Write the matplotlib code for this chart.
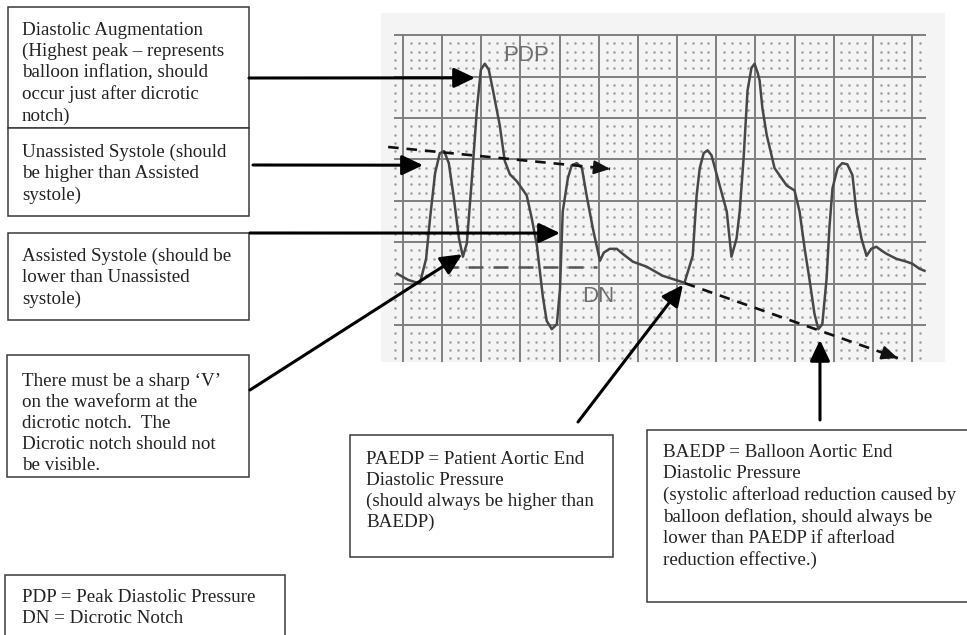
import matplotlib.pyplot as plt
from matplotlib.patches import Rectangle

# Waveform, in major grid divisions
# (x = time divisions from the first heavy line, y = divisions above the 2nd lowest line).
WAVE_X = [-0.15, 0.13, 0.43, 0.59, 0.69, 0.82, 0.94, 1.05, 1.17, 1.30, 1.43, 1.53,
          1.63, 1.76, 1.89, 1.99, 2.09, 2.19, 2.30, 2.47, 2.60, 2.73, 2.91, 3.16,
          3.29, 3.42, 3.57, 3.67, 3.80, 3.93, 4.01, 4.08, 4.21, 4.31, 4.44, 4.57,
          4.69, 4.85, 5.03, 5.13, 5.28, 5.46, 5.61, 5.87, 6.22, 6.63, 7.19, 7.40,
          7.50, 7.58, 7.68, 7.78, 7.88, 8.04, 8.27, 8.39, 8.52, 8.60, 8.70, 8.80,
          8.90, 8.98, 9.06, 9.11, 9.18, 9.29, 9.49, 9.80, 10.00, 10.13, 10.26, 10.38,
          10.51, 10.61, 10.71, 10.82, 10.89, 10.97, 11.10, 11.22, 11.35, 11.48, 11.58,
          11.71, 11.84, 11.96, 12.09, 12.22, 12.35, 12.60, 12.86, 13.01, 13.19, 13.32]
WAVE_Y = [1.24, 1.09, 1.00, 1.60, 2.57, 3.67, 4.15, 4.20, 3.91, 3.06, 2.09, 1.65,
          1.97, 3.54, 5.24, 6.17, 6.31, 6.17, 5.66, 4.83, 3.96, 3.64, 3.47, 3.13,
          2.57, 1.92, 0.70, 0.10, -0.10, 0.02, 0.87, 2.74, 3.54, 3.86, 3.91, 3.79,
          3.13, 2.33, 1.55, 1.75, 1.84, 1.84, 1.72, 1.53, 1.41, 1.19, 1.02, 1.67,
          3.13, 3.79, 4.15, 4.22, 4.10, 3.54, 2.74, 1.65, 2.09, 2.74, 4.03, 5.66,
          6.21, 6.31, 6.09, 5.90, 5.24, 4.59, 3.79, 3.37, 3.25, 2.74, 1.84, 1.12,
          0.27, -0.10, 0.02, 1.12, 2.33, 3.30, 3.79, 3.91, 3.88, 3.62, 2.74,
          2.09, 1.67, 1.84, 1.89, 1.80, 1.72, 1.60, 1.53, 1.48, 1.36, 1.31]

# hand-drawn reference lines on the strip
SYSTOLE_TREND_X = [-0.38, 5.29]
SYSTOLE_TREND_Y = [4.30, 3.77]
NOTCH_LEVEL_X = [1.02, 4.96]
NOTCH_LEVEL_Y = [1.40, 1.40]
AEDP_TREND_X = [7.20, 12.64]
AEDP_TREND_Y = [1.01, -0.80]

STRIP_LABELS = [("PDP", 3.14, 6.50), ("DN", 5.00, 0.68)]

# callout boxes: (left, top, right, bottom) in page pixels, text
BOXES = [
    ((8, 7, 249, 128), "Diastolic Augmentation\n(Highest peak \u2013 represents\n"
                       "balloon inflation, should\noccur just after dicrotic\nnotch)"),
    ((8, 128, 249, 216), "Unassisted Systole (should\nbe higher than Assisted\nsystole)"),
    ((8, 233, 249, 320), "Assisted Systole (should be\nlower than Unassisted\nsystole)"),
    ((7, 355, 249, 477), "There must be a sharp \u2018V\u2019\non the waveform at the\n"
                         "dicrotic notch.  The\nDicrotic notch should not\nbe visible."),
    ((5, 575, 285, 645), "PDP = Peak Diastolic Pressure\nDN = Dicrotic Notch"),
    ((350, 435, 613, 557), "PAEDP = Patient Aortic End\nDiastolic Pressure\n"
                           "(should always be higher than\nBAEDP)"),
    ((647, 430, 980, 602), "BAEDP = Balloon Aortic End\nDiastolic Pressure\n"
                           "(systolic afterload reduction caused by\nballoon deflation, should always be\n"
                           "lower than PAEDP if afterload\nreduction effective.)"),
]
TEXT_OFFSET = [(14, 15), (14, 16), (14, 15), (15, 18), (17, 14), (16, 16), (16, 14)]

# callout arrows: start (page pixels) -> target (strip divisions)
ARROW_START = [(249, 78), (253, 165), (250, 233), (250, 390), (578, 422), (820, 420)]
ARROW_END = [(1.84, 5.97), (0.51, 3.86), (4.01, 2.22), (1.51, 1.71), (7.15, 0.97), (10.65, -0.36)]

W, H = 967, 635
fig = plt.figure(figsize=(W / 100, H / 100), dpi=100)
fig.patch.set_facecolor("white")

# strip chart paper, placed in page pixels
px0, px1, py0, py1 = 381, 945, 13, 362
ax = fig.add_axes([px0 / W, 1 - py1 / H, (px1 - px0) / W, (py1 - py0) / H])
ax.set_xlim((px0 - 403) / 39.15, (px1 - 403) / 39.15)
ax.set_ylim((325 - py1) / 41.4, (325 - py0) / 41.4)
ax.set_facecolor("#f4f4f4")
for s in ax.spines.values():
    s.set_visible(False)
ax.set_xticks([])
ax.set_yticks([])

y_low = ax.get_ylim()[0]
for k in range(14):
    ax.plot([k, k], [y_low, 7.0], color="#7e7e7e", lw=1.4, zorder=1)
for j in range(8):
    ax.plot([-0.2, 13.33], [j, j], color="#7e7e7e", lw=1.4, zorder=1)
dx, dy = [], []
for k in range(-1, 14):
    for fx in (0.2, 0.4, 0.6, 0.8):
        x = k + fx
        if x < -0.25 or x > 13.25:
            continue
        for j in range(-1, 7):
            for fy in (0.2, 0.4, 0.6, 0.8):
                y = j + fy
                if y < -0.85:
                    continue
                dx.append(x)
                dy.append(y)
ax.scatter(dx, dy, s=3.2, color="#9a9a9a", linewidths=0, zorder=1)

ax.plot(WAVE_X, WAVE_Y, color="#474747", lw=1.8, solid_joinstyle="round", zorder=3)

ax.plot(SYSTOLE_TREND_X, SYSTOLE_TREND_Y, color="#111111", lw=1.9, dashes=(4, 3), zorder=4)
ax.annotate("", xy=(SYSTOLE_TREND_X[1], SYSTOLE_TREND_Y[1]),
            xytext=(SYSTOLE_TREND_X[1] - 0.3, SYSTOLE_TREND_Y[1] + 0.028),
            arrowprops=dict(arrowstyle="-|>,head_length=0.7,head_width=0.3",
                            color="#111111", lw=1.5, mutation_scale=14, shrinkA=0, shrinkB=0))
ax.plot(NOTCH_LEVEL_X, NOTCH_LEVEL_Y, color="#555555", lw=1.8, dashes=(6, 4), zorder=4)
ax.plot(AEDP_TREND_X, AEDP_TREND_Y, color="#111111", lw=1.9, dashes=(4, 3), zorder=4)
slope = (AEDP_TREND_Y[1] - AEDP_TREND_Y[0]) / (AEDP_TREND_X[1] - AEDP_TREND_X[0])
ax.annotate("", xy=(AEDP_TREND_X[1], AEDP_TREND_Y[1]),
            xytext=(AEDP_TREND_X[1] - 0.3, AEDP_TREND_Y[1] - 0.3 * slope),
            arrowprops=dict(arrowstyle="-|>,head_length=0.7,head_width=0.3",
                            color="#111111", lw=1.5, mutation_scale=14, shrinkA=0, shrinkB=0))

for label, x, y in STRIP_LABELS:
    ax.text(x, y, label, color="#6e6e6e", fontsize=16, family="Liberation Sans",
            ha="center", va="center", zorder=2)

# overlay in page pixels for boxes and callouts
ov = fig.add_axes([0, 0, 1, 1])
ov.set_xlim(0, W)
ov.set_ylim(H, 0)
ov.axis("off")
ov.patch.set_alpha(0)

for i, ((l, t, r, b), txt) in enumerate(BOXES):
    z = 2 + 2 * i
    ov.add_patch(Rectangle((l, t), r - l, b - t, facecolor="white", edgecolor="#3a3a3a",
                           lw=1.1, zorder=z, clip_on=False))
    ox, oy = TEXT_OFFSET[i]
    t_art = ov.text(l + ox, t + oy, txt, family="Liberation Serif", fontsize=13.7,
                    color="#222222", ha="left", va="top", linespacing=1.30, zorder=z + 1)
    # the first box's text frame cuts off the bottom of its last line
    clip = Rectangle((l, t), r - l, b - t - (6 if i == 0 else 0), transform=ov.transData)
    t_art.set_clip_path(clip)

for (sx, sy), (ex, ey) in zip(ARROW_START, ARROW_END):
    ov.annotate("", xy=(ex, ey), xycoords=ax.transData, xytext=(sx, sy), textcoords=ov.transData,
                arrowprops=dict(arrowstyle="-|>,head_length=0.8,head_width=0.38",
                                color="black", lw=2.2, mutation_scale=16, shrinkA=0, shrinkB=0),
                zorder=30, annotation_clip=False)

fig.savefig("out.png", dpi=100)
